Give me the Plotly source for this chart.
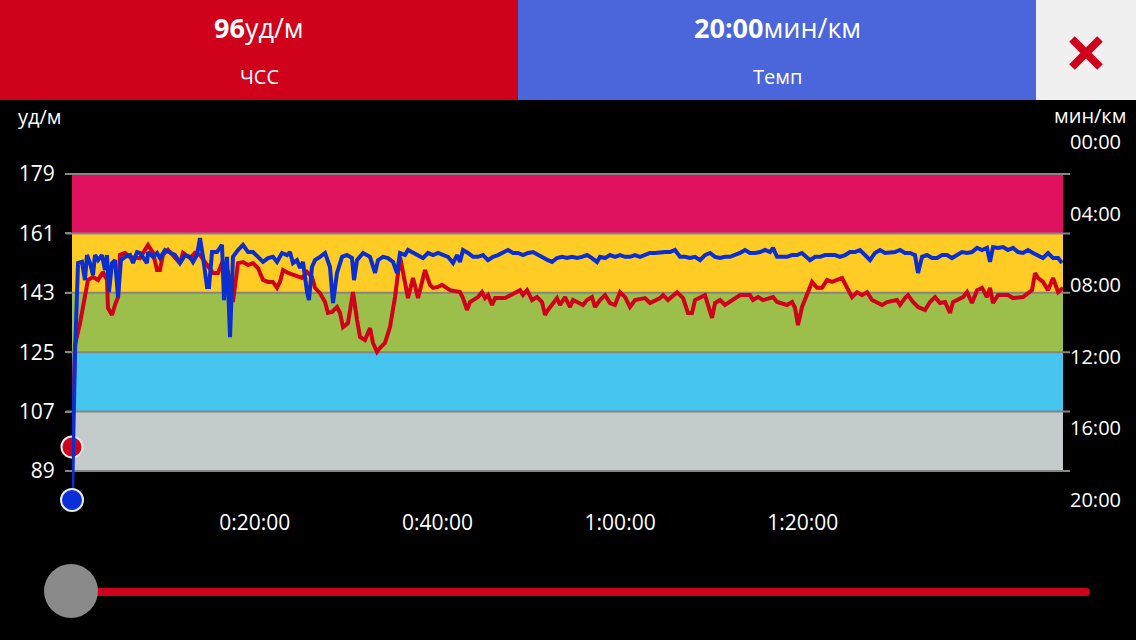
import plotly.graph_objects as go

# heart rate track: minutes from start / bpm
hr_time = [0, 0.33, 0.88, 1.42, 1.75, 2.30, 2.85, 3.39, 3.83, 3.94, 4.38, 4.71, 5.04, 5.25, 5.80, 6.35, 6.90,
           7.44, 7.99, 8.32, 8.87, 9.31, 9.63, 9.96, 10.51, 11.28, 11.82, 12.15, 12.92, 13.46, 14.01, 14.56,
           15.11, 15.44, 15.98, 16.42, 16.86, 17.30, 17.62, 18.17, 18.72, 19.27, 19.81, 20.36, 20.91, 21.46,
           22.00, 22.44, 22.77, 23.10, 23.65, 24.19, 24.74, 25.18, 25.73, 26.27, 26.60, 27.15, 27.70, 28.02,
           28.46, 29.01, 29.34, 29.67, 30.21, 30.76, 31.20, 31.53, 32.07, 32.62, 32.95, 33.39, 33.72, 34.26,
           34.81, 35.36, 35.91, 36.45, 36.78, 37.33, 37.88, 38.64, 39.19, 39.52, 40.07, 40.50, 41.38, 42.47,
           42.80, 43.24, 43.57, 44.44, 44.88, 45.21, 45.54, 45.98, 46.31, 47.40, 47.95, 48.50, 49.04, 49.37,
           49.81, 50.36, 50.90, 51.45, 51.78, 52.11, 52.65, 53.09, 53.42, 53.97, 54.52, 54.84, 55.94, 56.38,
           56.92, 57.25, 57.80, 58.35, 58.89, 59.44, 59.99, 60.54, 61.08, 61.63, 62.73, 63.27, 64.37, 64.70,
           65.24, 66.23, 66.89, 67.43, 67.87, 68.20, 69.29, 69.84, 70.06, 70.39, 70.94, 71.48, 72.58, 73.13,
           74.22, 74.55, 75.10, 75.65, 76.74, 77.18, 78.27, 78.82, 79.15, 79.47, 79.91, 80.46, 81.01, 81.55,
           82.10, 82.65, 83.20, 84.29, 84.84, 85.39, 85.93, 86.48, 87.03, 87.58, 88.67, 89.22, 90.31, 90.64,
           91.19, 91.52, 92.06, 92.61, 93.38, 93.92, 94.47, 95.02, 95.57, 96.11, 96.44, 97.54, 97.98, 98.52,
           99.07, 99.62, 100.16, 100.49, 100.82, 101.37, 102.46, 103.01, 104.10, 104.65, 105.09, 105.42,
           105.75, 106.29, 106.84, 107.39, 107.94, 108.48]
hr_bpm = [96.3, 127.2, 133.8, 141.7, 146.9, 147.8, 146.9, 149.3, 146.9, 138.4, 136.3, 139.3, 141.7, 154.5, 155.1,
          153.8, 153.5, 153.5, 156.0, 157.5, 155.1, 149.9, 149.9, 154.5, 156.0, 153.8, 152.0, 155.1, 153.5, 155.1,
          154.5, 152.3, 149.9, 149.0, 149.0, 152.0, 151.4, 146.9, 140.2, 152.0, 152.3, 151.4, 152.0, 150.5, 146.9,
          146.3, 146.3, 144.5, 146.3, 149.9, 149.0, 148.4, 147.8, 147.5, 149.3, 147.8, 144.5, 142.9, 140.2, 136.9,
          137.2, 138.7, 136.9, 132.6, 133.8, 143.2, 134.8, 129.6, 128.7, 132.3, 127.8, 125.1, 126.3, 127.8, 132.6,
          141.7, 153.8, 146.3, 141.4, 147.5, 141.4, 149.9, 145.4, 144.5, 144.8, 145.4, 143.8, 143.2, 141.4, 137.8,
          140.2, 141.7, 143.2, 141.4, 142.3, 139.3, 141.4, 141.4, 142.3, 142.9, 143.8, 142.3, 143.8, 140.8, 141.7,
          140.2, 136.3, 137.8, 139.9, 141.4, 139.3, 141.7, 138.7, 140.8, 139.3, 140.8, 141.7, 138.7, 140.8, 142.3,
          139.9, 139.3, 143.2, 141.7, 138.7, 140.8, 141.4, 139.9, 141.4, 142.3, 140.8, 143.2, 141.4, 136.9, 136.9,
          140.8, 142.3, 137.2, 135.4, 139.9, 140.8, 139.3, 141.4, 142.3, 142.3, 140.8, 141.7, 140.8, 141.7, 140.2,
          139.3, 140.2, 138.4, 133.2, 138.7, 142.3, 146.3, 144.5, 144.5, 146.9, 146.3, 147.5, 144.5, 141.7, 143.2,
          142.3, 143.2, 140.8, 139.3, 140.2, 140.8, 139.3, 141.4, 142.3, 140.2, 138.7, 137.8, 140.2, 141.7, 139.9,
          140.2, 136.9, 140.2, 141.7, 143.2, 139.9, 143.8, 144.5, 141.7, 144.5, 139.9, 142.3, 142.3, 141.4, 141.7,
          142.9, 143.8, 149.0, 147.5, 146.3, 143.8, 147.5, 143.2, 144.5]

# pace track: minutes from start / seconds per km
pace_time = [0, 0.33, 0.66, 1.09, 1.42, 1.64, 1.97, 2.30, 2.52, 2.85, 3.28, 3.61, 3.83, 4.05, 4.38, 4.71, 5.04,
             5.36, 5.80, 6.35, 6.68, 7.12, 7.44, 7.77, 8.21, 8.32, 8.87, 9.31, 9.63, 10.18, 10.73, 11.28, 11.82,
             12.37, 12.92, 13.25, 13.68, 14.01, 14.34, 14.78, 15.00, 15.33, 15.87, 16.42, 16.64, 16.97, 17.30,
             17.62, 18.17, 18.72, 19.27, 19.81, 20.36, 20.91, 21.46, 22.00, 22.44, 22.99, 23.54, 23.86, 24.19,
             24.63, 24.96, 25.29, 25.73, 25.94, 26.27, 26.60, 27.15, 27.70, 28.24, 28.57, 29.01, 29.56, 30.10,
             30.65, 30.87, 31.20, 31.86, 32.62, 33.17, 33.50, 34.05, 34.59, 35.14, 35.58, 35.91, 36.45, 36.78,
             37.33, 37.88, 38.42, 38.97, 39.52, 40.07, 40.61, 41.16, 41.71, 42.15, 42.47, 42.80, 43.35, 43.90,
             44.44, 44.99, 45.54, 46.09, 46.63, 47.18, 47.73, 48.28, 48.82, 49.37, 49.92, 50.46, 51.01, 51.56,
             52.11, 52.55, 53.09, 53.64, 54.19, 54.73, 55.28, 55.83, 56.38, 56.92, 57.47, 57.80, 58.35, 58.89,
             59.44, 59.99, 60.54, 61.08, 61.63, 62.18, 62.73, 63.27, 63.82, 64.37, 64.92, 65.46, 66.01, 66.56,
             67.11, 67.65, 68.20, 68.75, 69.29, 69.84, 70.39, 70.94, 71.48, 72.03, 72.58, 73.13, 73.67, 74.22,
             74.77, 75.32, 75.86, 76.41, 76.74, 77.18, 77.72, 78.27, 78.82, 79.36, 79.91, 80.46, 80.79, 81.34,
             81.88, 82.43, 82.98, 83.53, 84.07, 84.62, 85.17, 85.71, 86.26, 86.81, 87.36, 87.90, 88.45, 89.00,
             89.55, 90.09, 90.64, 91.19, 91.74, 92.28, 92.61, 93.05, 93.60, 94.15, 94.69, 95.24, 95.79, 96.33,
             96.88, 97.43, 97.98, 98.52, 99.07, 99.62, 100.16, 100.49, 100.82, 101.37, 101.92, 102.46, 103.01,
             103.56, 104.10, 104.65, 105.20, 105.75, 106.29, 106.84, 107.39, 107.94, 108.37]
pace_sec = [1200, 707, 406, 402, 463, 379, 406, 446, 379, 396, 379, 429, 379, 503, 406, 396, 520, 396, 385, 379,
            406, 369, 372, 385, 406, 369, 385, 372, 389, 362, 372, 379, 406, 379, 385, 402, 379, 322, 385, 486,
            486, 369, 369, 345, 530, 385, 654, 385, 362, 345, 369, 369, 385, 402, 389, 385, 402, 372, 379, 369,
            406, 396, 422, 402, 503, 530, 419, 396, 385, 372, 419, 540, 439, 385, 379, 389, 463, 396, 372, 385,
            439, 396, 385, 389, 402, 439, 372, 379, 362, 372, 379, 389, 372, 379, 372, 379, 385, 406, 379, 402,
            362, 372, 385, 385, 379, 396, 385, 379, 372, 362, 372, 372, 379, 372, 369, 379, 389, 396, 402, 389,
            385, 389, 385, 389, 385, 379, 389, 402, 385, 389, 379, 385, 379, 385, 385, 379, 385, 379, 372, 372,
            369, 369, 369, 362, 385, 385, 389, 385, 396, 379, 372, 385, 389, 385, 385, 379, 372, 362, 372, 372,
            369, 362, 369, 355, 385, 385, 385, 379, 379, 372, 385, 396, 385, 385, 379, 379, 379, 385, 379, 369,
            369, 362, 379, 396, 372, 362, 372, 369, 369, 362, 372, 372, 379, 439, 385, 379, 389, 389, 379, 379,
            389, 379, 369, 372, 369, 355, 362, 355, 402, 352, 355, 352, 362, 355, 369, 372, 362, 372, 379, 389,
            372, 389, 389, 406]

# heart rate zone boundaries (bpm) and their colours
zone_edges = [89, 107, 125, 143, 161, 179]
zone_colors = ["#c4cbcb", "#46c6ee", "#9cbf4b", "#ffcc26", "#e0115f"]

x_ticks = [20, 40, 60, 80]
x_labels = ["0:20:00", "0:40:00", "1:00:00", "1:20:00"]
pace_ticks = [0, 240, 480, 720, 960, 1200]
pace_labels = ["00:00", "04:00", "08:00", "12:00", "16:00", "20:00"]

W, H = 1136, 640
FONT = "Open Sans"
RED = "#d0021b"
BLUE_LINE = "#0b2ecf"


def px(x):
    return x / W


def py(y):
    return 1 - y / H


fig = go.Figure()

fig.add_trace(go.Scatter(x=hr_time, y=hr_bpm, mode="lines", line=dict(color=RED, width=4),
                         yaxis="y", cliponaxis=False, showlegend=False))
fig.add_trace(go.Scatter(x=[hr_time[0]], y=[hr_bpm[0]], mode="markers", yaxis="y", cliponaxis=False,
                         marker=dict(size=21, color=RED, line=dict(color="#e8e8e8", width=2)), showlegend=False))
fig.add_trace(go.Scatter(x=pace_time, y=pace_sec, mode="lines", line=dict(color=BLUE_LINE, width=4),
                         yaxis="y2", cliponaxis=False, showlegend=False))
# current position markers
fig.add_trace(go.Scatter(x=[pace_time[0]], y=[pace_sec[0]], mode="markers", yaxis="y2", cliponaxis=False,
                         marker=dict(size=22, color="#0a2ed8", line=dict(color="#e8e8e8", width=2)), showlegend=False))

shapes = []
for lo, hi, c in zip(zone_edges[:-1], zone_edges[1:], zone_colors):
    shapes.append(dict(type="rect", xref="x domain", yref="y", x0=0, x1=1, y0=lo, y1=hi,
                       fillcolor=c, line_width=0, layer="below"))
for v in zone_edges:
    shapes.append(dict(type="line", xref="paper", yref="y", x0=px(66), x1=px(1070), y0=v, y1=v,
                       line=dict(color="#858585", width=2), layer="below"))

# header boxes
shapes += [
    dict(type="rect", xref="paper", yref="paper", x0=0, x1=px(518), y0=py(100), y1=1, fillcolor=RED, line_width=0),
    dict(type="rect", xref="paper", yref="paper", x0=px(518), x1=px(1036), y0=py(100), y1=1,
         fillcolor="#4a66da", line_width=0),
    dict(type="rect", xref="paper", yref="paper", x0=px(1036), x1=1, y0=py(100), y1=1,
         fillcolor="#f0f0f0", line_width=0),
    dict(type="line", xref="paper", yref="paper", x0=px(1072), x1=px(1100), y0=py(39), y1=py(67),
         line=dict(color=RED, width=8)),
    dict(type="line", xref="paper", yref="paper", x0=px(1072), x1=px(1100), y0=py(67), y1=py(39),
         line=dict(color=RED, width=8)),
]
# slider
shapes += [
    dict(type="line", xref="paper", yref="paper", x0=px(71), x1=px(1086), y0=py(592), y1=py(592),
         line=dict(color=RED, width=8)),
    dict(type="circle", xref="paper", yref="paper", x0=px(1082), x1=px(1090), y0=py(596), y1=py(588),
         fillcolor=RED, line_width=0),
    dict(type="circle", xref="paper", yref="paper", x0=px(44), x1=px(98), y0=py(618), y1=py(564),
         fillcolor="#8a8a8a", line_width=0),
]

annotations = [
    dict(text="<b>96</b>уд/м", x=px(259), y=py(27), font=dict(size=27, color="white")),
    dict(text="ЧСС", x=px(259), y=py(76), font=dict(size=20, color="white")),
    dict(text="<b>20:00</b>мин/км", x=px(777), y=py(27), font=dict(size=27, color="white")),
    dict(text="Темп", x=px(777), y=py(76), font=dict(size=20, color="white")),
    dict(text="уд/м", x=px(16), y=py(116), xanchor="left", font=dict(size=20, color="white")),
    dict(text="мин/км", x=px(1128), y=py(115), xanchor="right", font=dict(size=20, color="white")),
]
for a in annotations:
    a.update(xref="paper", yref="paper", showarrow=False, yanchor=a.get("yanchor", "middle"),
             xanchor=a.get("xanchor", "center"))

fig.update_layout(
    width=W, height=H, autosize=False,
    margin=dict(l=0, r=0, t=0, b=0),
    paper_bgcolor="black", plot_bgcolor="black",
    font=dict(family=FONT, color="white", size=21),
    shapes=shapes, annotations=annotations,
    xaxis=dict(domain=[px(72), px(1063)], range=[0, 108.48], tickvals=x_ticks, ticktext=x_labels,
               showgrid=False, zeroline=False, showline=False, ticks="", ticklabelstandoff=8,
               tickfont=dict(size=21, color="white"), automargin=False, fixedrange=True),
    yaxis=dict(domain=[py(500), py(142)], range=[80.21, 188.70], tickvals=zone_edges,
               showgrid=False, zeroline=False, showline=False, ticks="outside", ticklen=6,
               tickcolor="#858585", tickwidth=2, ticklabelstandoff=6,
               tickfont=dict(size=21, color="white"), automargin=False),
    yaxis2=dict(overlaying="y", side="right", anchor="x", range=[1200, 0], tickvals=pace_ticks,
                ticktext=pace_labels, showgrid=False, zeroline=False, showline=False, ticks="",
                ticklabelstandoff=6, tickfont=dict(size=20, color="white"), automargin=False),
)

fig.write_html("out.html", config={"displayModeBar": False},
               post_script="document.body.style.margin='0';document.body.style.background='black';")
